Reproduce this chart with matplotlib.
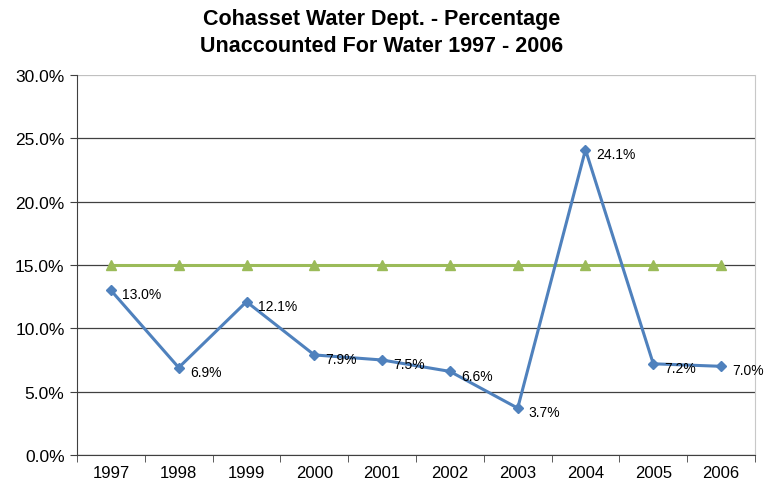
import matplotlib
matplotlib.use("Agg")
import matplotlib.pyplot as plt
from matplotlib.ticker import FuncFormatter, FixedLocator

plt.rcParams['font.family'] = ['Liberation Sans', 'DejaVu Sans']

years = ["1997", "1998", "1999", "2000", "2001", "2002", "2003", "2004", "2005", "2006"]
unaccounted = [13.0, 6.9, 12.1, 7.9, 7.5, 6.6, 3.7, 24.1, 7.2, 7.0]
target = [15.0] * 10
yticks = [0, 5, 10, 15, 20, 25, 30]

blue = "#4F81BD"
green = "#9BBB59"

fig = plt.figure(figsize=(7.64, 4.89), dpi=100)
ax = fig.add_axes([0.1008, 0.0675, 0.8874, 0.7771])

x = list(range(len(years)))
ax.plot(x, target, color=green, lw=2.2, marker="^", ms=7, zorder=3)
ax.plot(x, unaccounted, color=blue, lw=2.2, marker="D", ms=5.5, zorder=4)
for xi, v in zip(x, unaccounted):
    ax.annotate(f"{v:.1f}%", (xi, v), xytext=(8, -3), textcoords="offset points",
                fontsize=10, va="center", ha="left", color="#000000", zorder=5)

ax.set_xlim(-0.5, len(years) - 0.5)
ax.set_ylim(0, 30)
ax.set_yticks(yticks)
ax.yaxis.set_major_formatter(FuncFormatter(lambda v, p: f"{v:.1f}%"))
ax.yaxis.grid(True, color="#404040", lw=0.9)
ax.set_axisbelow(True)
# top edge of the plot area is a light border, not a dark grid line
ax.yaxis.get_gridlines()[-1].set_color("#C0C0C0")

ax.set_xticks(x)
ax.set_xticklabels(years)
ax.xaxis.set_minor_locator(FixedLocator([i - 0.5 for i in range(len(years) + 1)]))
ax.tick_params(axis="x", which="major", length=0, pad=7, labelsize=12)
ax.tick_params(axis="x", which="minor", length=5, direction="out", color="#404040")
ax.tick_params(axis="y", length=5, direction="out", color="#404040", labelsize=12.5, pad=4)

ax.spines["top"].set_visible(False)
ax.spines["right"].set_color("#C8C8C8")
ax.spines["left"].set_color("#404040")
ax.spines["bottom"].set_color("#404040")

fig.suptitle("Cohasset Water Dept. - Percentage\nUnaccounted For Water 1997 - 2006",
             fontsize=15.5, fontweight="bold", y=0.982, linespacing=1.4)

fig.savefig("out.png", dpi=100)
